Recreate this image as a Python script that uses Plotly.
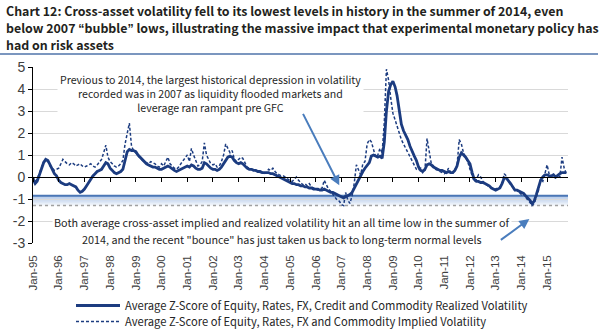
import plotly.graph_objects as go
import pandas as pd

# ---------------- data (monthly, Jan-1995 .. Oct-2015) ----------------
realized = [
    # 1995
    -0.10, -0.30, -0.20, 0.10, 0.40, 0.65, 0.80, 0.75, 0.55, 0.35, 0.15, 0.05,
    # 1996
    -0.15, -0.25, -0.30, -0.35, -0.35, -0.30, -0.35, -0.40, -0.45, -0.60, -0.70, -0.65,
    # 1997
    -0.55, -0.40, -0.25, -0.10, 0.05, 0.15, 0.25, 0.30, 0.35, 0.50, 0.65, 0.60,
    # 1998
    0.40, 0.30, 0.20, 0.15, 0.20, 0.25, 0.35, 0.80, 1.15, 1.25, 1.20, 1.20,
    # 1999
    1.15, 1.00, 0.90, 0.80, 0.70, 0.60, 0.55, 0.50, 0.45, 0.45, 0.40, 0.35,
    # 2000
    0.35, 0.40, 0.45, 0.50, 0.45, 0.35, 0.30, 0.25, 0.30, 0.35, 0.40, 0.45,
    # 2001
    0.50, 0.45, 0.55, 0.50, 0.40, 0.35, 0.35, 0.40, 0.65, 0.60, 0.50, 0.40,
    # 2002
    0.35, 0.35, 0.30, 0.35, 0.45, 0.60, 0.80, 0.90, 0.95, 0.90, 0.75, 0.65,
    # 2003
    0.60, 0.65, 0.60, 0.50, 0.40, 0.35, 0.35, 0.30, 0.30, 0.25, 0.25, 0.20,
    # 2004
    0.20, 0.20, 0.20, 0.15, 0.15, 0.10, 0.05, 0.00, -0.05, -0.10, -0.15, -0.20,
    # 2005
    -0.25, -0.30, -0.30, -0.35, -0.35, -0.40, -0.40, -0.45, -0.45, -0.50, -0.50, -0.55,
    # 2006
    -0.55, -0.55, -0.60, -0.60, -0.55, -0.60, -0.65, -0.70, -0.70, -0.75, -0.80, -0.85,
    # 2007
    -0.90, -0.95, -0.90, -0.85, -0.80, -0.70, -0.50, -0.30, -0.10, 0.05, 0.25, 0.40,
    # 2008
    0.55, 0.65, 0.95, 1.00, 0.95, 0.90, 0.95, 0.85, 1.60, 3.00, 3.90, 4.20,
    # 2009
    4.35, 4.10, 3.70, 3.00, 2.40, 2.10, 1.90, 1.70, 1.40, 1.15, 0.95, 0.75,
    # 2010
    0.45, 0.30, 0.25, 0.35, 0.55, 0.60, 0.55, 0.45, 0.40, 0.35, 0.30, 0.30,
    # 2011
    0.25, 0.20, 0.25, 0.20, 0.20, 0.30, 0.50, 0.90, 1.10, 1.00, 0.90, 0.75,
    # 2012
    0.60, 0.20, -0.10, -0.20, -0.20, -0.25, -0.25, -0.30, -0.35, -0.40, -0.50, -0.55,
    # 2013
    -0.60, -0.55, -0.50, -0.30, -0.05, -0.05, -0.15, -0.30, -0.45, -0.60, -0.60, -0.65,
    # 2014
    -0.70, -0.75, -0.85, -0.95, -1.05, -1.20, -1.10, -0.80, -0.45, -0.15, 0.00, 0.10,
    # 2015
    0.10, 0.05, 0.05, 0.10, 0.00, 0.10, 0.15, 0.20, 0.20, 0.20,
]

implied = [
    # 1995
    0.00, -0.20, -0.10, 0.20, 0.45, 0.70, 0.75, 0.70, 0.50, 0.40, 0.30, 0.35,
    # 1996
    0.40, 0.60, 0.80, 0.70, 0.60, 0.55, 0.65, 0.60, 0.50, 0.55, 0.60, 0.50,
    # 1997
    0.45, 0.50, 0.55, 0.60, 0.50, 0.45, 0.55, 0.70, 0.80, 1.10, 1.45, 0.90,
    # 1998
    0.70, 0.60, 0.50, 0.45, 0.50, 0.60, 0.75, 1.50, 2.00, 2.45, 1.40, 1.20,
    # 1999
    1.10, 1.00, 0.85, 0.75, 0.70, 0.65, 0.60, 0.70, 0.65, 0.60, 0.50, 0.45,
    # 2000
    0.60, 0.50, 0.70, 0.90, 0.60, 0.50, 0.40, 0.35, 0.45, 0.60, 0.75, 0.85,
    # 2001
    1.00, 0.70, 1.30, 1.00, 0.70, 0.50, 0.55, 0.70, 1.55, 1.00, 0.80, 0.60,
    # 2002
    0.55, 0.60, 0.45, 0.50, 0.70, 1.00, 1.50, 1.30, 1.10, 1.20, 0.80, 0.70,
    # 2003
    0.80, 0.90, 0.85, 0.60, 0.45, 0.40, 0.35, 0.35, 0.30, 0.25, 0.20, 0.20,
    # 2004
    0.15, 0.20, 0.35, 0.30, 0.40, 0.25, 0.15, 0.10, 0.05, 0.05, -0.05, -0.10,
    # 2005
    -0.15, -0.20, -0.10, 0.00, -0.15, -0.25, -0.35, -0.30, -0.40, -0.30, -0.45, -0.50,
    # 2006
    -0.55, -0.60, -0.55, -0.50, -0.15, -0.40, -0.55, -0.65, -0.80, -0.95, -1.05, -1.10,
    # 2007
    -1.25, -1.30, -0.70, -1.05, -1.20, -0.85, -0.30, 0.55, 0.30, 0.10, 0.60, 0.70,
    # 2008
    1.50, 1.70, 1.60, 1.20, 0.90, 1.00, 1.30, 1.10, 2.50, 4.90, 4.40, 3.60,
    # 2009
    2.90, 2.60, 2.30, 2.00, 1.70, 1.50, 1.30, 1.10, 0.90, 0.70, 0.50, 0.35,
    # 2010
    0.30, 0.40, 0.20, 0.30, 1.75, 1.10, 0.60, 0.50, 0.35, 0.30, 0.25, 0.20,
    # 2011
    0.15, 0.20, 0.40, 0.20, 0.15, 0.35, 0.50, 1.70, 1.50, 1.10, 0.90, 0.70,
    # 2012
    0.35, 0.10, -0.20, -0.10, 0.10, 0.00, -0.20, -0.30, -0.40, -0.45, -0.50, -0.50,
    # 2013
    -0.55, -0.50, -0.45, -0.35, 0.15, 0.05, -0.20, -0.35, -0.45, -0.55, -0.60, -0.70,
    # 2014
    -0.80, -0.75, -0.90, -1.05, -1.15, -1.30, -1.20, -0.90, -0.60, -0.10, -0.20, 0.15,
    # 2015
    0.55, 0.10, 0.00, 0.00, -0.05, 0.05, 0.00, 0.90, 0.40, 0.15,
]

dates = pd.date_range("1995-01-01", periods=len(realized), freq="MS")

tick_years = list(range(1995, 2016))
tick_vals = [f"{y}-01-01" for y in tick_years]
tick_text = [f"Jan-{str(y)[2:]}" for y in tick_years]

y_tick_vals = [-3, -2, -1, 0, 1, 2, 3, 4, 5]
y_tick_text = ["-3", "-2", "-1", "0", "1", "2", "3", "4", "5"]

band_top = -0.85      # 2007 realized low (solid reference line)
band_bottom = -1.30   # implied low (dotted reference line)

x_range = ["1995-01-01", "2015-10-25"]

name_realized = "Average Z-Score of Equity, Rates, FX, Credit and Commodity Realized Volatility"
name_implied = "Average Z-Score of Equity, Rates, FX and Commodity Implied Volatility"

LQ = '<span style="font-family:Liberation Sans">\u201c</span>'
RQ = '<span style="font-family:Liberation Sans">\u201d</span>'
title_lines = [
    "Chart 12: Cross-asset volatility fell to its lowest levels in history in the summer of 2014, even",
    f"below 2007 {LQ}bubble{RQ} lows, illustrating the massive impact that experimental monetary policy has",
    "had on risk assets",
]

note_top = ("Previous to 2014, the largest historical depression in volatility<br>"
            "recorded was in 2007 as liquidity flooded markets and<br>"
            "leverage ran rampant pre GFC")
note_bottom_lines = [
    "Both average cross-asset implied and realized volatility hit an all time low in the summer of",
    "2014, and the recent \"bounce\" has just taken us back to long-term normal levels",
]

# ---------------- styling ----------------
NAVY = "#1c3c80"
ARROW = "#4a7dbd"
NARROW = "Noto Sans CJK SC, Liberation Sans, Arial"
TXT = "#262626"

PLOT_TOP, PLOT_BOTTOM, PLOT_LEFT, PLOT_RIGHT = 67, 243, 33, 568
PH = PLOT_BOTTOM - PLOT_TOP
PW = PLOT_RIGHT - PLOT_LEFT


def py(pix_y):
    """pixel row -> paper y"""
    return (PLOT_BOTTOM - pix_y) / PH


def px(pix_x):
    """pixel column -> paper x"""
    return (pix_x - PLOT_LEFT) / PW


fig = go.Figure()

fig.add_trace(go.Scatter(x=dates, y=realized, mode="lines", name=name_realized,
                         line=dict(color=NAVY, width=2.8), legend="legend"))
fig.add_trace(go.Scatter(x=dates, y=implied, mode="lines", name=name_implied,
                         line=dict(color=NAVY, width=1.5, dash="3px,2px"), legend="legend2"))
# helper trace so the zero-crossing axis (with year ticks) is drawn
fig.add_trace(go.Scatter(x=[dates[0], dates[-1]], y=[0, 0], xaxis="x2", mode="lines",
                         line=dict(width=0), opacity=0, showlegend=False, hoverinfo="skip"))

# gradient band between the two lows
n_steps = 10
for i in range(n_steps):
    y0 = band_top + (band_bottom - band_top) * i / n_steps
    y1 = band_top + (band_bottom - band_top) * (i + 1) / n_steps
    t = i / (n_steps - 1)
    r = int(165 + (236 - 165) * t)
    g = int(190 + (242 - 190) * t)
    b = int(228 + (250 - 228) * t)
    fig.add_shape(type="rect", xref="paper", yref="y", x0=0, x1=1, y0=y0, y1=y1,
                  fillcolor=f"rgb({r},{g},{b})", line=dict(width=0), layer="between")
fig.add_shape(type="line", xref="paper", yref="y", x0=0, x1=1, y0=band_bottom, y1=band_bottom,
              line=dict(color="#a0a0a0", width=1.5, dash="dot"), layer="between")
fig.add_shape(type="line", xref="paper", yref="y", x0=0, x1=1, y0=band_top, y1=band_top,
              line=dict(color="#4a76b5", width=2), layer="between")

# title separator
fig.add_shape(type="line", xref="paper", yref="paper", x0=px(0), x1=px(598),
              y0=py(54), y1=py(54), line=dict(color="#4f73aa", width=1.6))

fig.update_layout(
    width=600, height=333,
    margin=dict(l=PLOT_LEFT, r=600 - PLOT_RIGHT, t=PLOT_TOP, b=333 - PLOT_BOTTOM, autoexpand=False),
    paper_bgcolor="white", plot_bgcolor="white",
    showlegend=True,
    legend=dict(x=px(71), y=py(291), xanchor="left", yanchor="top", bgcolor="rgba(0,0,0,0)",
                itemwidth=44, font=dict(family=NARROW, size=11.2, color=TXT)),
    legend2=dict(x=px(71), y=py(307), xanchor="left", yanchor="top", bgcolor="rgba(0,0,0,0)",
                 itemwidth=44, font=dict(family=NARROW, size=11.2, color=TXT)),
    xaxis=dict(range=x_range, tickvals=tick_vals, ticktext=tick_text, tickangle=-90,
               showgrid=False, showline=False, zeroline=False, ticks="",
               ticklabelstandoff=9,
               tickfont=dict(family="Liberation Sans, Arial", size=11.5, color="#404040")),
    xaxis2=dict(range=x_range, overlaying="x", anchor="free", position=0.375, side="bottom",
                tickvals=tick_vals, showticklabels=False, ticks="outside", ticklen=4,
                tickcolor="black", showline=True, linecolor="black", linewidth=1,
                showgrid=False, zeroline=False),
    yaxis=dict(range=[-3, 5], tickvals=y_tick_vals, ticktext=y_tick_text,
               showgrid=True, gridcolor="#d9d9d9", gridwidth=1, zeroline=False,
               showline=True, linecolor="black", linewidth=1, ticks="outside", ticklen=4,
               tickcolor="black",
               tickfont=dict(family="Liberation Sans, Arial", size=14, color="#404040")),
)

# title (three lines)
for line_text, cy in zip(title_lines, [11, 28, 45]):
    fig.add_annotation(text=line_text, xref="paper", yref="paper", x=px(4), y=py(cy),
                       xanchor="left", yanchor="middle", showarrow=False,
                       font=dict(family=NARROW, size=12.4, color="#231f20", weight="bold"))

fig.add_annotation(text=note_top, xref="paper", yref="paper", x=px(210), y=py(69),
                   xanchor="center", yanchor="top", showarrow=False, align="center",
                   bgcolor="white", borderpad=2,
                   font=dict(family=NARROW, size=10.6, color=TXT))
for line_text, cy in zip(note_bottom_lines, [222, 239]):
    fig.add_annotation(text=line_text, xref="paper", yref="paper", x=px(282), y=py(cy),
                       xanchor="center", yanchor="middle", showarrow=False, align="center",
                       bgcolor="white", borderpad=1,
                       font=dict(family=NARROW, size=10.8, color=TXT))

# arrows
fig.add_annotation(x="2006-12-01", y=-0.38, xref="x", yref="y", ax=-37, ay=-73, text="",
                   showarrow=True, arrowhead=2, arrowsize=1, arrowwidth=2, arrowcolor=ARROW)
# bottom arrow: anchored at its tail, head drawn at the far (upper-right) end
fig.add_annotation(x="2013-03-15", y=-2.86, xref="x", yref="y", ax=30, ay=-22, text="",
                   showarrow=True, arrowside="start", arrowhead=2, startarrowhead=2,
                   startarrowsize=1, arrowsize=1, arrowwidth=2, arrowcolor=ARROW)

fig.write_html("out.html")
